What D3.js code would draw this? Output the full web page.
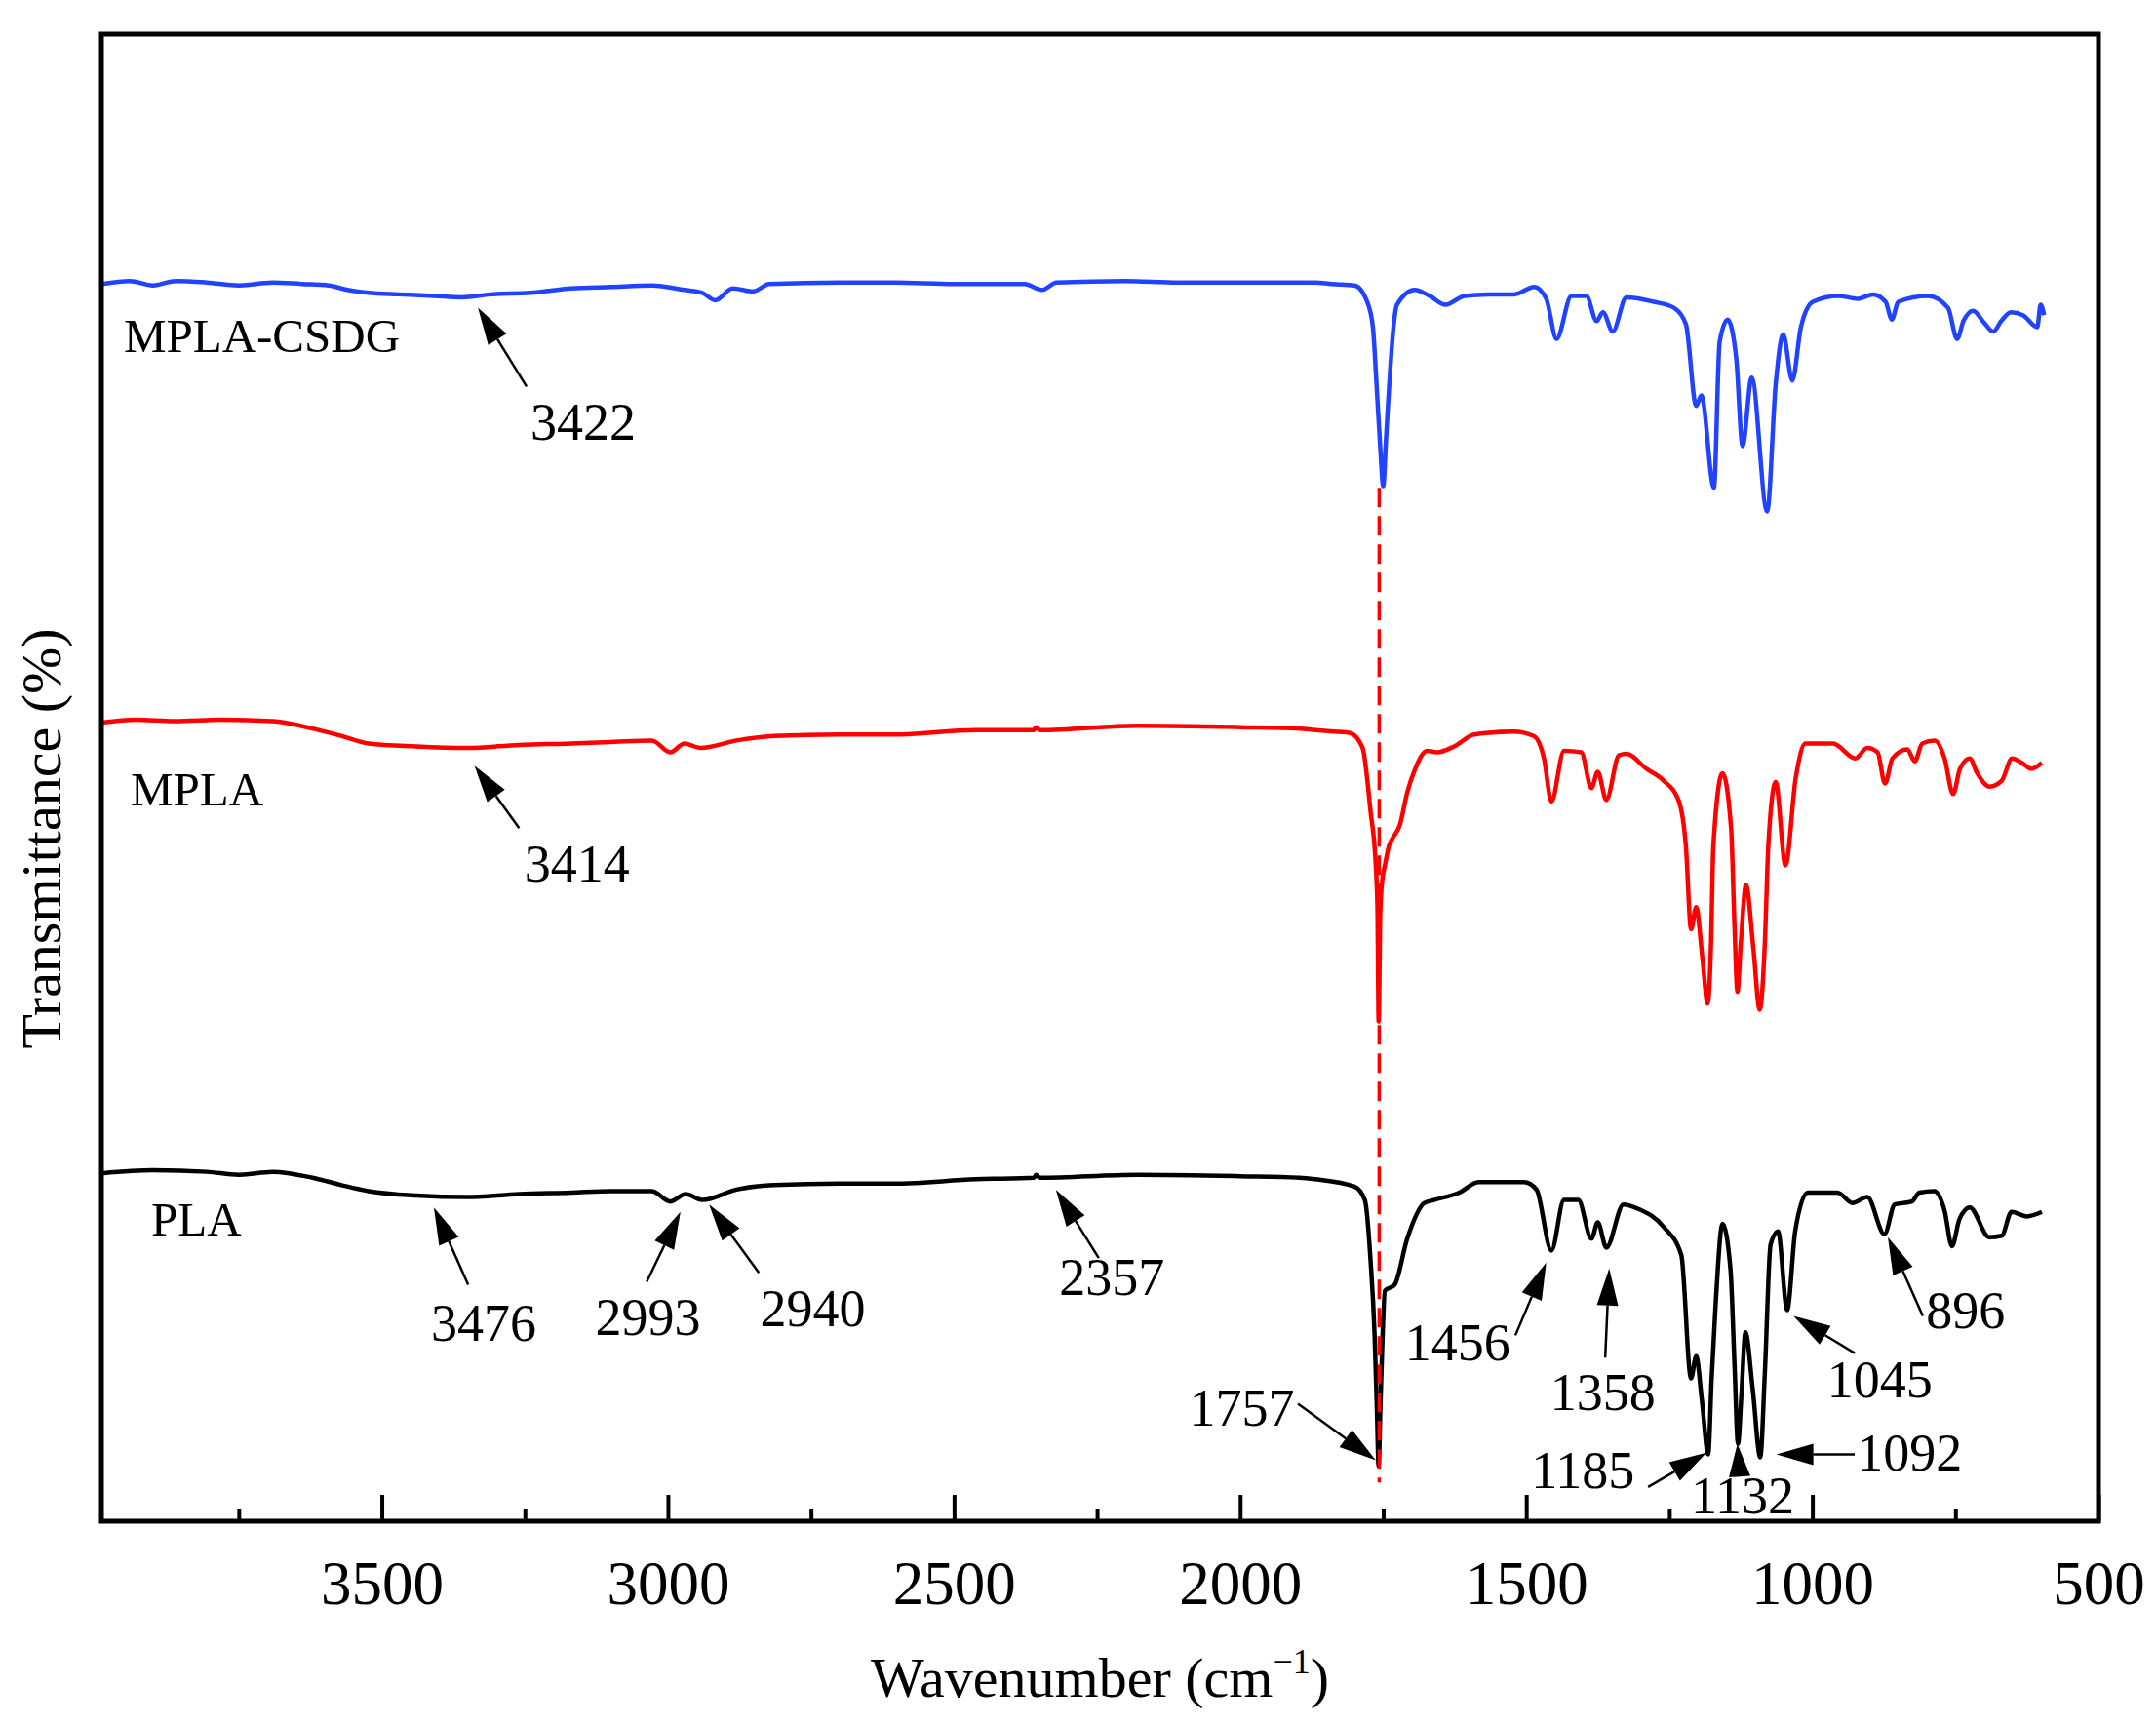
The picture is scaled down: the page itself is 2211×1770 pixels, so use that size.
<!DOCTYPE html>
<html>
<head>
<meta charset="utf-8">
<script src="https://cdn.jsdelivr.net/npm/d3@7"></script>
<style>
  body { margin: 0; background: #fff; }
  text { font-family: "Times New Roman", "Liberation Serif", serif; fill: #000; }
</style>
</head>
<body>
<div id="chart"></div>
<script>
// FTIR spectra, values are stacked transmittance (a.u.)
const seriesNames = ["MPLA-CSDG", "MPLA", "PLA"];
const seriesColors = ["#2142ff", "#ff0000", "#000000"];

const mplaCsdg = [
  [3989, 83.2], [3940, 83.4], [3900, 83.1], [3860, 83.4], [3806, 83.3], [3750, 83.1], [3691, 83.3],
  [3640, 83.2], [3593, 83.1], [3560, 82.8], [3523, 82.6], [3470, 82.5], [3409, 82.4], [3360, 82.3],
  [3310, 82.5], [3240, 82.6], [3169, 82.9], [3100, 83.0], [3028, 83.1], [2971, 82.8], [2940, 82.6],
  [2917, 82.1], [2887, 82.9], [2851, 82.7], [2823, 83.2], [2700, 83.3], [2604, 83.3], [2500, 83.2],
  [2377, 83.2], [2346, 82.8], [2321, 83.3], [2200, 83.4], [2109, 83.3], [2000, 83.3], [1869, 83.3],
  [1840, 83.2], [1800, 83.1], [1778, 82.0], [1768, 80.3], [1762, 76.7], [1755, 72.1], [1750, 69.6],
  [1745, 72.8], [1739, 76.7], [1732, 80.3], [1726, 81.8], [1695, 82.8], [1669, 82.4], [1641, 81.8],
  [1608, 82.4], [1565, 82.5], [1521, 82.5], [1486, 83.0], [1465, 82.2], [1447, 79.5], [1421, 82.4],
  [1395, 82.4], [1377, 80.7], [1366, 81.3], [1349, 80.0], [1325, 82.3], [1277, 82.0], [1242, 81.6],
  [1221, 80.5], [1203, 75.0], [1194, 75.7], [1172, 69.5], [1162, 79.3], [1148, 80.8], [1133, 78.2],
  [1122, 72.3], [1106, 76.9], [1079, 67.9], [1064, 76.5], [1051, 79.8], [1035, 76.7], [1020, 80.3],
  [999, 82.0], [955, 82.4], [920, 82.2], [894, 82.5], [872, 82.0], [861, 80.8], [850, 82.0],
  [798, 82.4], [763, 81.6], [747, 79.5], [736, 80.7], [719, 81.4], [700, 80.6], [684, 80.0],
  [670, 80.7], [653, 81.3], [632, 81.1], [607, 80.3], [601, 81.8], [595, 81.1]
];

const mpla = [
  [3989, 53.7], [3930, 53.9], [3862, 53.8], [3780, 53.9], [3691, 53.8], [3621, 53.3], [3570, 52.8],
  [3523, 52.3], [3440, 52.1], [3352, 52.0], [3260, 52.2], [3169, 52.3], [3100, 52.4], [3028, 52.5],
  [2996, 51.7], [2971, 52.3], [2943, 52.0], [2880, 52.5], [2815, 52.8], [2700, 52.9], [2604, 52.9],
  [2462, 53.2], [2360, 53.2], [2357, 53.4], [2350, 53.2], [2180, 53.5], [2000, 53.4], [1896, 53.3],
  [1869, 53.2], [1835, 53.1], [1808, 53.0], [1786, 52.0], [1772, 47.7], [1763, 44.1], [1760, 41.1],
  [1758, 33.6], [1755, 41.1], [1751, 43.3], [1747, 44.1], [1740, 45.4], [1734, 45.9], [1721, 46.8],
  [1708, 49.0], [1695, 50.5], [1673, 51.8], [1656, 51.7], [1626, 52.1], [1591, 52.9], [1522, 53.1],
  [1487, 52.8], [1469, 51.3], [1456, 48.4], [1434, 51.8], [1404, 51.7], [1386, 49.3], [1375, 50.4],
  [1360, 48.5], [1338, 51.5], [1325, 51.6], [1290, 50.6], [1260, 49.8], [1234, 48.5], [1221, 45.4],
  [1212, 39.8], [1203, 41.3], [1192, 37.8], [1183, 34.8], [1177, 38.9], [1173, 45.4], [1157, 50.3],
  [1142, 46.6], [1136, 40.0], [1131, 35.6], [1125, 38.9], [1116, 42.8], [1103, 38.5], [1092, 34.4],
  [1083, 38.9], [1077, 45.4], [1064, 49.7], [1047, 44.1], [1029, 50.0], [1012, 52.3], [964, 52.3],
  [925, 51.3], [904, 52.0], [886, 51.7], [873, 49.6], [860, 51.3], [834, 51.9], [821, 51.1],
  [808, 52.3], [786, 52.5], [769, 51.3], [754, 48.9], [742, 50.6], [725, 51.3], [712, 50.3],
  [690, 49.4], [669, 49.8], [651, 51.3], [634, 51.0], [617, 50.6], [599, 51.0]
];

const pla = [
  [3989, 23.4], [3900, 23.6], [3806, 23.5], [3750, 23.3], [3691, 23.5], [3621, 23.1], [3570, 22.6],
  [3523, 22.2], [3440, 21.9], [3352, 21.8], [3260, 22.0], [3169, 22.1], [3100, 22.2], [3028, 22.2],
  [2996, 21.5], [2969, 22.0], [2940, 21.6], [2880, 22.3], [2815, 22.6], [2700, 22.7], [2604, 22.7],
  [2462, 23.0], [2360, 23.1], [2357, 23.3], [2350, 23.1], [2180, 23.3], [2000, 23.2], [1896, 23.1],
  [1869, 23.0], [1800, 22.5], [1782, 21.6], [1772, 17.5], [1765, 12.5], [1761, 7.5], [1758, 3.7],
  [1755, 7.5], [1751, 12.5], [1747, 15.5], [1730, 15.9], [1708, 19.0], [1678, 21.4], [1661, 21.6],
  [1617, 22.1], [1583, 22.8], [1504, 22.8], [1482, 22.3], [1456, 18.2], [1434, 21.6], [1409, 21.6],
  [1386, 19.0], [1375, 20.1], [1360, 18.4], [1330, 21.3], [1304, 21.0], [1260, 19.8], [1229, 17.9],
  [1212, 9.6], [1203, 11.1], [1193, 8.1], [1182, 4.5], [1176, 9.6], [1169, 14.6], [1157, 20.0],
  [1143, 16.9], [1136, 10.5], [1130, 5.2], [1124, 8.5], [1117, 12.7], [1104, 8.8], [1091, 4.3],
  [1083, 10.0], [1073, 18.6], [1060, 19.5], [1044, 14.2], [1030, 19.5], [1008, 22.1], [956, 22.1],
  [930, 21.4], [904, 21.8], [874, 19.3], [856, 21.3], [826, 21.5], [813, 22.1], [787, 22.2],
  [769, 20.9], [756, 18.5], [743, 20.3], [725, 21.1], [691, 19.1], [669, 19.2], [652, 20.8],
  [625, 20.5], [599, 20.8]
];

const spectra = [mplaCsdg, mpla, pla];
const seriesLabelAt = [[3951, 78.6], [3939, 48.1], [3903, 19.2]];

const majorTicks = [3500, 3000, 2500, 2000, 1500, 1000, 500];
const minorTicks = [3750, 3250, 2750, 2250, 1750, 1250, 750];

// dashed guide through the C=O band
const guideWn = 1757;
const guideRange = [69.5, 2.6];

const annotations = [
  {text: "3422", tip: [3332, 81.6], tail: [3247, 76.3], at: [3148, 72.7]},
  {text: "3414", tip: [3338, 50.8], tail: [3260, 46.6], at: [3159, 43.0]},
  {text: "3476", tip: [3409, 21.1], tail: [3349, 15.9], at: [3322, 12.1]},
  {text: "2993", tip: [2978, 20.8], tail: [3037, 16.1], at: [3035, 12.5]},
  {text: "2940", tip: [2928, 21.3], tail: [2841, 16.7], at: [2747, 13.1]},
  {text: "2357", tip: [2322, 22.3], tail: [2247, 17.7], at: [2224, 15.2]},
  {text: "1757", tip: [1763, 4.1], tail: [1899, 7.9], at: [1997, 6.4]},
  {text: "1456", tip: [1465, 17.4], tail: [1519, 12.5], at: [1620, 10.8]},
  {text: "1358", tip: [1355, 17.0], tail: [1362, 11.0], at: [1366, 7.5]},
  {text: "1185", tip: [1185, 4.6], tail: [1287, 2.3], at: [1401, 2.2]},
  {text: "1132", tip: [1131, 5.2], tail: [1127, 3.0], at: [1122, 0.5]},
  {text: "1092", tip: [1063, 4.5], tail: [926, 4.5], at: [830, 3.4]},
  {text: "1045", tip: [1033, 13.8], tail: [926, 11.3], at: [882, 8.3]},
  {text: "896", tip: [868, 19.1], tail: [807, 13.8], at: [732, 13.0]}
];

const width = 2211;
const height = 1770;
const margin = {top: 35, right: 59, bottom: 210, left: 104};

const x = d3.scaleLinear()
  .domain([3990, 500])
  .range([margin.left, width - margin.right]);

const y = d3.scaleLinear()
  .domain([0, 100])
  .range([height - margin.bottom, margin.top]);

const svg = d3.select("#chart").append("svg")
  .attr("width", width)
  .attr("height", height);

// spectra
const line = d3.line()
  .x(d => x(d[0]))
  .y(d => y(d[1]))
  .curve(d3.curveMonotoneX);

svg.append("g")
  .selectAll("path")
  .data(spectra)
  .join("path")
    .attr("fill", "none")
    .attr("stroke", (d, i) => seriesColors[i])
    .attr("stroke-width", 4.5)
    .attr("stroke-linejoin", "round")
    .attr("d", line);

// red dashed guide
svg.append("line")
  .attr("x1", x(guideWn)).attr("x2", x(guideWn))
  .attr("y1", y(guideRange[0])).attr("y2", y(guideRange[1]))
  .attr("stroke", "#ff0000")
  .attr("stroke-width", 3.5)
  .attr("stroke-dasharray", "20,9");

// series names
svg.append("g")
  .selectAll("text")
  .data(seriesNames)
  .join("text")
    .attr("x", (d, i) => x(seriesLabelAt[i][0]))
    .attr("y", (d, i) => y(seriesLabelAt[i][1]))
    .attr("font-size", 49)
    .text(d => d);

// peak arrows
const arrows = svg.append("g");
annotations.forEach(a => {
  const x0 = x(a.tail[0]), y0 = y(a.tail[1]);
  const x1 = x(a.tip[0]), y1 = y(a.tip[1]);
  const dx = x1 - x0, dy = y1 - y0;
  const len = Math.hypot(dx, dy);
  const ux = dx / len, uy = dy / len;
  const head = Math.min(38, len);
  const hw = 11;
  const bx = x1 - ux * head, by = y1 - uy * head;
  arrows.append("line")
    .attr("x1", x0).attr("y1", y0)
    .attr("x2", bx).attr("y2", by)
    .attr("stroke", "#000")
    .attr("stroke-width", 2.5);
  arrows.append("path")
    .attr("d", `M${x1},${y1}L${bx - uy * hw},${by + ux * hw}L${bx + uy * hw},${by - ux * hw}Z`)
    .attr("fill", "#000");
  arrows.append("text")
    .attr("x", x(a.at[0]))
    .attr("y", y(a.at[1]))
    .attr("text-anchor", "middle")
    .attr("font-size", 54)
    .text(a.text);
});

// x axis, ticks pointing inward
const xAxis = svg.append("g")
  .attr("transform", `translate(0,${height - margin.bottom})`)
  .call(d3.axisBottom(x).tickValues(majorTicks).tickSize(-27).tickPadding(40).tickFormat(d3.format("d")));
xAxis.select(".domain").remove();
xAxis.selectAll(".tick line").attr("stroke-width", 4);
xAxis.selectAll(".tick text")
  .attr("font-size", 63)
  .attr("font-family", "'Times New Roman', 'Liberation Serif', serif");

const xMinor = svg.append("g")
  .attr("transform", `translate(0,${height - margin.bottom})`)
  .call(d3.axisBottom(x).tickValues(minorTicks).tickSize(-13).tickFormat(""));
xMinor.select(".domain").remove();
xMinor.selectAll(".tick line").attr("stroke-width", 4);

// frame
svg.append("rect")
  .attr("x", margin.left)
  .attr("y", margin.top)
  .attr("width", width - margin.left - margin.right)
  .attr("height", height - margin.top - margin.bottom)
  .attr("fill", "none")
  .attr("stroke", "#000")
  .attr("stroke-width", 5);

// axis titles
const xTitle = svg.append("text")
  .attr("x", (margin.left + width - margin.right) / 2)
  .attr("y", 1740)
  .attr("text-anchor", "middle")
  .attr("font-size", 58);
xTitle.append("tspan").text("Wavenumber (cm");
xTitle.append("tspan").attr("font-size", 36).attr("dy", -24).text("\u22121");
xTitle.append("tspan").attr("dy", 24).text(")");

svg.append("text")
  .attr("transform", "translate(62,860) rotate(-90)")
  .attr("text-anchor", "middle")
  .attr("font-size", 58)
  .text("Transmittance (%)");
</script>
</body>
</html>
